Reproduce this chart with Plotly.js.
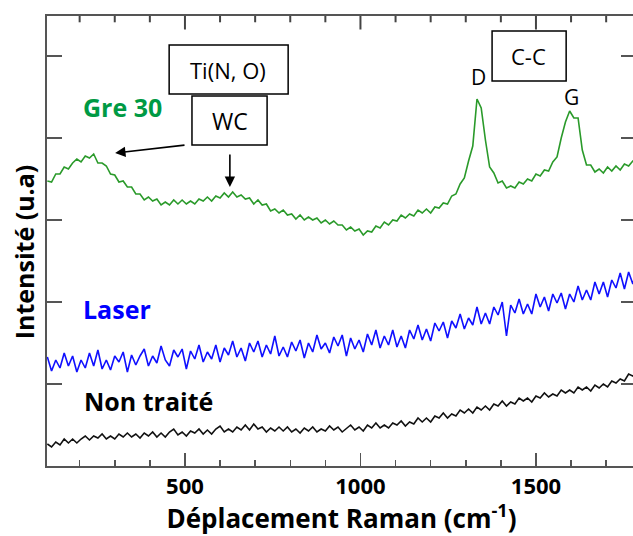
<!DOCTYPE html>
<html>
<head>
<meta charset="utf-8">
<script src="https://cdn.plot.ly/plotly-3.0.1.min.js"></script>
<style>html,body{margin:0;padding:0;overflow:hidden;background:#fff;}#chart{width:640px;height:536px;}</style>
</head>
<body>
<div id="chart"></div>
<script>
// Raman shift (cm-1)
const ramanShift = [108,120,132,144,156,168,180,192,204,216,228,240,252,264,276,288,300,312,324,336,348,360,372,384,396,408,420,432,444,456,468,480,492,504,516,528,540,552,564,576,588,600,612,624,636,648,660,672,684,696,708,720,732,744,756,768,780,792,804,816,828,840,852,864,876,888,900,912,924,936,948,960,972,984,996,1008,1020,1032,1044,1056,1068,1080,1092,1104,1116,1128,1140,1152,1164,1176,1188,1200,1212,1224,1236,1248,1260,1272,1284,1296,1308,1320,1332,1344,1356,1368,1380,1392,1404,1416,1428,1440,1452,1464,1476,1488,1500,1512,1524,1536,1548,1560,1572,1584,1596,1608,1620,1632,1644,1656,1668,1680,1692,1704,1716,1728,1740,1752,1764,1776,1788];

// Gre 30 intensity (a.u.)
const gre30 = [285,284,292,292,299,297,303,307,304,310,308,312,303,303,300,292,291,284,285,279,279,272,272,266,269,265,267,261,264,261,266,262,266,262,265,262,267,265,269,265,270,268,273,269,274,269,271,267,268,262,266,261,262,255,257,253,256,251,252,247,251,246,249,246,248,243,246,242,245,241,241,236,239,235,237,231,235,234,240,238,244,241,246,245,251,248,252,250,256,253,257,253,259,258,263,262,270,272,282,288,305,320,367,358,326,299,293,283,285,278,280,278,284,282,287,285,292,290,296,295,304,309,328,344,355,348,348,316,301,301,294,297,293,299,295,300,296,302,300,305,303];

// Laser intensity (a.u.)
const laser = [109,95,106,98,113,100,110,94,106,98,113,100,116,97,106,96,110,104,114,94,111,101,110,117,100,110,103,120,106,100,116,109,117,97,115,107,121,104,114,107,121,104,118,111,125,109,118,105,123,114,125,109,121,112,130,110,119,109,124,115,126,108,123,114,131,117,123,113,129,120,131,110,128,117,126,114,132,121,136,118,130,121,136,119,130,118,136,127,141,126,137,125,143,135,144,128,145,138,152,137,148,141,159,142,153,142,159,151,164,130,161,153,167,152,162,152,172,159,169,155,172,163,173,157,172,164,180,166,176,166,184,172,184,169,186,178,193,177,194,182,197];

// Non traité intensity (a.u.)
const nonTraite = [22,19,24,21,27,23,27,23,27,30,26,30,28,32,27,30,27,32,29,33,29,32,28,33,30,34,29,33,29,34,37,31,34,30,35,33,37,32,36,32,37,40,34,37,34,39,36,41,36,42,37,39,34,38,35,39,35,39,34,37,33,38,35,39,34,37,35,40,36,39,34,38,41,36,39,35,41,38,43,38,41,38,43,41,45,40,44,42,48,44,48,44,50,48,53,48,52,50,56,53,57,53,59,56,60,56,62,60,65,60,64,62,68,65,68,64,70,68,73,69,72,70,76,73,76,73,79,76,79,75,81,78,82,79,85,83,87,85,92,90,94];

const seriesNames = ['Gre 30', 'Laser', 'Non traité'];
const xTickVals = [500, 1000, 1500];
const xTickText = ['500', '1000', '1500'];
const xMinorTickVals = [200, 300, 400, 600, 700, 800, 900, 1100, 1200, 1300, 1400, 1600, 1700];

const F = '"Open Sans", "DejaVu Sans", sans-serif';

const traces = [
  {x: ramanShift, y: nonTraite, name: seriesNames[2], mode: 'lines', line: {color: '#111111', width: 1.6}},
  {x: ramanShift, y: laser, name: seriesNames[1], mode: 'lines', line: {color: '#1010ff', width: 1.6}},
  {x: ramanShift, y: gre30, name: seriesNames[0], mode: 'lines', line: {color: '#2a9a2a', width: 1.6}}
];

const axColor = '#555555';

// top-edge tick marks (mirrored x ticks), drawn as shapes hanging from the top of the plot area
const topTicks = xTickVals.map(v => ({type: 'line', layer: 'above', xref: 'x', yref: 'paper', x0: v, x1: v, y0: 1.0, y1: 0.97, line: {color: '#444444', width: 2}}))
  .concat(xMinorTickVals.map(v => ({type: 'line', layer: 'above', xref: 'x', yref: 'paper', x0: v, x1: v, y0: 1.0, y1: 0.986, line: {color: '#444444', width: 2}})));

const layout = {
  width: 640, height: 536,
  margin: {l: 47, r: 4, t: 16, b: 70},
  paper_bgcolor: '#ffffff', plot_bgcolor: '#ffffff',
  showlegend: false,
  xaxis: {
    range: [107, 1785], showgrid: false, zeroline: false,
    showline: true, linecolor: axColor, linewidth: 2, mirror: true,
    ticks: 'inside', ticklen: 13, tickwidth: 1.5, tickcolor: axColor,
    tickmode: 'array', tickvals: xTickVals, ticktext: xTickText,
    tickfont: {family: F, size: 22, color: '#000', weight: 'bold'},
    minor: {dtick: 100, tick0: 0, ticks: 'inside', ticklen: 6, tickwidth: 1.5, tickcolor: axColor, showgrid: false},
    title: {text: 'Déplacement Raman (cm<sup>-1</sup>)', font: {family: F, size: 26, color: '#000', weight: 'bold'}, standoff: 8}
  },
  yaxis: {
    range: [0, 450], showgrid: false, zeroline: false,
    showline: true, linecolor: axColor, linewidth: 2, mirror: 'ticks',
    ticks: 'inside', ticklen: 15, tickwidth: 1.5, tickcolor: axColor,
    tickmode: 'array', tickvals: [82, 164, 246, 328, 410], showticklabels: false
  },
  shapes: topTicks.concat([
    {type: 'rect', xref: 'x', yref: 'y', x0: 455, x1: 794, y0: 372, y1: 421, line: {color: '#000', width: 1.5}, fillcolor: '#fff'},
    {type: 'rect', xref: 'x', yref: 'y', x0: 520, x1: 734, y0: 321, y1: 370, line: {color: '#000', width: 1.5}, fillcolor: '#fff'},
    {type: 'rect', xref: 'x', yref: 'y', x0: 1375, x1: 1586, y0: 385, y1: 435, line: {color: '#000', width: 1.5}, fillcolor: '#fff'}
  ]),
  annotations: [
    {xref: 'paper', yref: 'paper', x: -0.0392, y: 0.477, xanchor: 'center', yanchor: 'middle', textangle: -90, text: 'Intensité (u.a)', showarrow: false, font: {family: F, size: 25, color: '#000', weight: 'bold'}},
    {xref: 'x', yref: 'y', x: 622, y: 396, text: 'Ti(N, O)', showarrow: false, font: {family: F, size: 22, color: '#000'}},
    {xref: 'x', yref: 'y', x: 627, y: 345, text: 'WC', showarrow: false, font: {family: F, size: 23, color: '#000'}},
    {xref: 'x', yref: 'y', x: 1480, y: 410, text: 'C-C', showarrow: false, font: {family: F, size: 22, color: '#000'}},
    {xref: 'x', yref: 'y', x: 1335, y: 389, text: 'D', showarrow: false, font: {family: F, size: 21, color: '#000'}},
    {xref: 'x', yref: 'y', x: 1600, y: 369, text: 'G', showarrow: false, font: {family: F, size: 21, color: '#000'}},
    {xref: 'x', yref: 'y', x: 204, y: 359, xanchor: 'left', text: seriesNames[0], showarrow: false, font: {family: F, size: 25, color: '#009a44', weight: 'bold'}},
    {xref: 'x', yref: 'y', x: 204, y: 157, xanchor: 'left', text: seriesNames[1], showarrow: false, font: {family: F, size: 25, color: '#0000ff', weight: 'bold'}},
    {xref: 'x', yref: 'y', x: 206, y: 65, xanchor: 'left', text: seriesNames[2], showarrow: false, font: {family: F, size: 25, color: '#000', weight: 'bold'}},
    {xref: 'x', yref: 'y', x: 301, y: 313, axref: 'x', ayref: 'y', ax: 503, ay: 321, text: '', showarrow: true, arrowhead: 2, arrowsize: 1.3, arrowwidth: 1.6, arrowcolor: '#000'},
    {xref: 'x', yref: 'y', x: 628, y: 279, axref: 'x', ayref: 'y', ax: 628, ay: 313, text: '', showarrow: true, arrowhead: 2, arrowsize: 1.3, arrowwidth: 1.6, arrowcolor: '#000'}
  ]
};

Plotly.newPlot('chart', traces, layout, {displayModeBar: false, staticPlot: true});
</script>
</body>
</html>
